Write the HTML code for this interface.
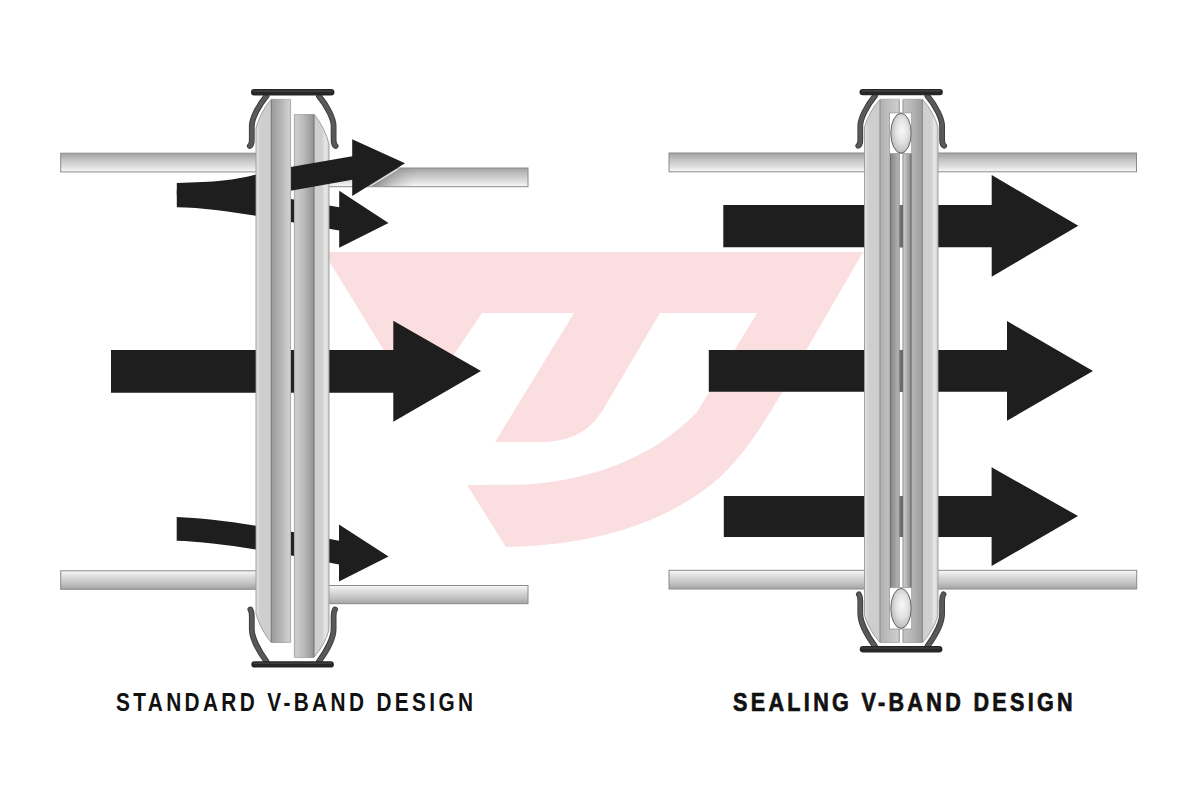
<!DOCTYPE html>
<html><head><meta charset="utf-8">
<style>
html,body{margin:0;padding:0;background:#fff;width:1200px;height:800px;overflow:hidden}
svg{display:block;position:absolute;left:0;top:0}
.t{position:absolute;top:687.5px;font-family:"Liberation Sans",sans-serif;font-weight:bold;color:#111;white-space:nowrap;font-size:25.4px;line-height:normal;transform-origin:0 0}
</style></head>
<body>
<svg width="1200" height="800" viewBox="0 0 1200 800">
<defs>
  <linearGradient id="pipe" x1="0" y1="0" x2="0" y2="1">
    <stop offset="0" stop-color="#a2a2a2"/>
    <stop offset="0.35" stop-color="#c4c2c2"/>
    <stop offset="0.7" stop-color="#dedddd"/>
    <stop offset="1" stop-color="#fafafa"/>
  </linearGradient>
  <linearGradient id="fl" x1="0" y1="0" x2="1" y2="0">
    <stop offset="0" stop-color="#e4e4e4"/>
    <stop offset="0.12" stop-color="#d0cfd0"/>
    <stop offset="1" stop-color="#c8c8c8"/>
  </linearGradient>
  <linearGradient id="pipeD" x1="0" y1="0" x2="0" y2="1">
    <stop offset="0" stop-color="#fafafa"/>
    <stop offset="0.3" stop-color="#dedede"/>
    <stop offset="0.65" stop-color="#c6c4c4"/>
    <stop offset="1" stop-color="#a4a4a4"/>
  </linearGradient>
  <linearGradient id="shadowA" gradientUnits="userSpaceOnUse" x1="372" y1="176" x2="412" y2="190">
    <stop offset="0" stop-color="#555" stop-opacity="0.75"/>
    <stop offset="0.5" stop-color="#777" stop-opacity="0.35"/>
    <stop offset="1" stop-color="#999" stop-opacity="0"/>
  </linearGradient>
  <clipPath id="pipeUR"><rect x="327" y="168.5" width="201" height="17.8"/></clipPath>
  <linearGradient id="flR" x1="0" y1="0" x2="1" y2="0">
    <stop offset="0" stop-color="#cdcdcd"/>
    <stop offset="0.8" stop-color="#d0d0d0"/>
    <stop offset="0.9" stop-color="#e8e8e8"/>
    <stop offset="1" stop-color="#cfcfcf"/>
  </linearGradient>
  <linearGradient id="gA" x1="0" y1="0" x2="1" y2="0">
    <stop offset="0" stop-color="#9a9a9a"/>
    <stop offset="0.6" stop-color="#bababa"/>
    <stop offset="1" stop-color="#d6d6d6"/>
  </linearGradient>
  <linearGradient id="gB" x1="0" y1="0" x2="1" y2="0">
    <stop offset="0" stop-color="#d0d0d0"/>
    <stop offset="0.45" stop-color="#bcbcbc"/>
    <stop offset="1" stop-color="#929292"/>
  </linearGradient>
  <linearGradient id="gC" x1="0" y1="0" x2="1" y2="0">
    <stop offset="0" stop-color="#858585"/>
    <stop offset="1" stop-color="#b8b8b8"/>
  </linearGradient>
  <linearGradient id="gD" x1="0" y1="0" x2="1" y2="0">
    <stop offset="0" stop-color="#d0d0d0"/>
    <stop offset="0.7" stop-color="#a0a0a0"/>
    <stop offset="1" stop-color="#848484"/>
  </linearGradient>
  <linearGradient id="gA2" x1="0" y1="0" x2="1" y2="0">
    <stop offset="0" stop-color="#b0b0b0"/>
    <stop offset="1" stop-color="#d0d0d0"/>
  </linearGradient>
  <linearGradient id="gB2" x1="0" y1="0" x2="1" y2="0">
    <stop offset="0" stop-color="#c4c4c4"/>
    <stop offset="0.5" stop-color="#b4b4b4"/>
    <stop offset="1" stop-color="#9c9c9c"/>
  </linearGradient>
  <radialGradient id="seal" cx="0.55" cy="0.45" r="0.6" fx="0.55" fy="0.42">
    <stop offset="0" stop-color="#f8f8f8"/>
    <stop offset="0.5" stop-color="#e2e2e2"/>
    <stop offset="1" stop-color="#b4b4b4"/>
  </radialGradient>
</defs>

<!-- pink logo -->
<path fill="#fbdfe0" d="M323.5,252 L863,252 L781,394 C760,430 735,470 700,493 C650,527 590,545 506,547 L467,485 L525,484.5 C595,480 655,456 697,412 L757,313 L660,313 L607,403 C595,425 580,440 545,442 L495,442 L574,313 L482,313 L418.5,407 Z"/>

<!-- ===== LEFT DIAGRAM ===== -->
<g stroke="#8a8a8a" stroke-width="1">
  <rect x="60.7" y="153.2" width="197" height="18.7" fill="url(#pipe)"/>
  <rect x="327" y="168" width="201" height="18.7" fill="url(#pipe)"/>
  <rect x="60.7" y="570.8" width="197" height="18.5" fill="url(#pipeD)"/>
  <rect x="327" y="585.5" width="201" height="18.2" fill="url(#pipeD)"/>
</g>

<!-- big arrow -->
<path fill="#1e1e1e" d="M111,350 L393.3,350 L393.3,320.7 L481,371 L393.3,421.7 L393.3,392.7 L111,392.7 Z"/>
<!-- lower stream -->
<path fill="#1e1e1e" d="M176.7,517.1 C215,518.5 270,527 339,540.8 L339,524.5 L388.5,556.5 L339,581.5 L339,564.5 C270,551 215,542 176.7,540.8 Z"/>
<!-- stream B (upper-lower) -->
<path fill="#1e1e1e" d="M176.8,190 C220,191 260,194 290.7,199 L339.2,207.2 L339.2,190.7 L388.5,223 L339.2,247.7 L339.2,230.4 C300,225 230,208 176.8,207.2 Z"/>

<!-- right flange (left diagram) -->
<g>
  <path d="M293.5,114.5 L314.4,114.5 Q324.8,127.7 329,144 L329,166 M329,605 L329,630 Q324.5,645.4 313.8,657.5 L293.5,657.5" fill="none" stroke="#fff" stroke-width="2.6"/>
  <path d="M294.4,114.5 L314.4,114.5 Q324.8,127.7 329,144 L329,630 Q324.5,645.4 313.8,657.5 L294.4,657.5 Z" fill="url(#flR)" stroke="#999" stroke-width="0.9"/>
  <rect x="294.4" y="114.5" width="19.6" height="543" fill="url(#gB)"/>
  <line x1="294.6" y1="115" x2="294.6" y2="657" stroke="#aaa" stroke-width="0.9"/>
  <line x1="314" y1="115" x2="314" y2="657" stroke="#727272" stroke-width="1"/>
</g>

<!-- stream A (upper) over right flange -->
<path fill="#1e1e1e" d="M176.8,182.9 C215,182 235,180 256,174.4 L290.7,167.1 L352.2,156.2 L352.2,139.3 L405,163.3 L352.2,196 L352.2,179.8 L290.7,190.7 L256,196 L176.8,195 Z"/>
<path d="M405,163.3 L352.2,196 L440,196 L440,163.3 Z" fill="url(#shadowA)" clip-path="url(#pipeUR)"/>
<path d="M405.6,164.2 L352.6,197" stroke="#fff" stroke-width="1" fill="none" clip-path="url(#pipeUR)"/>

<!-- left flange (left diagram) -->
<g>
  <path d="M291.5,99.4 L271,99.4 Q260.4,112.1 256,128 L256,151 M256,591 L256,613.8 Q260.5,629.8 271.2,642.5 L291.5,642.5" fill="none" stroke="#fff" stroke-width="2.6"/>
  <path d="M256,128 Q260.4,112.1 271,99.4 L290.6,99.4 L290.6,642.5 L271.2,642.5 Q260.5,629.8 256,613.8 Z" fill="url(#fl)" stroke="#999" stroke-width="0.9"/>
  <rect x="271.2" y="99.4" width="19.4" height="543.1" fill="url(#gA)"/>
  <line x1="271.3" y1="100" x2="271.3" y2="642" stroke="#777" stroke-width="1"/>
  <line x1="290.3" y1="100" x2="290.3" y2="642" stroke="#aaa" stroke-width="0.9"/>
</g>

<!-- clamp left diagram -->
<g id="clampTop">
  <g fill="none" stroke-linecap="round" stroke-linejoin="round">
    <path stroke="#3c3c3c" stroke-width="5.8" d="M249.8,146 Q251.8,144.5 251.8,140 L251.8,126 C251.8,119 258,106 266.5,96 M335.6,146 Q333.6,144.5 333.6,140 L333.6,126 C333.6,119 327.4,106 318.9,96"/>
    <path stroke="#595959" stroke-width="4" d="M249.8,146 Q251.8,144.5 251.8,140 L251.8,126 C251.8,119 258,106 266.5,96 M335.6,146 Q333.6,144.5 333.6,140 L333.6,126 C333.6,119 327.4,106 318.9,96"/>
  </g>
  <rect x="251" y="89.1" width="83.4" height="6.4" rx="3.2" fill="#262626"/>
  <rect x="253" y="90.3" width="79" height="1.6" rx="0.8" fill="#3e3e3e"/>
</g>
<g id="clampBot">
  <g fill="none" stroke-linecap="round" stroke-linejoin="round">
    <path stroke="#3c3c3c" stroke-width="5.8" d="M250.4,609.5 Q251.8,611.5 251.8,616 L251.8,629 C251.8,637 258,650 266.5,661.5 M335,609.5 Q333.6,611.5 333.6,616 L333.6,629 C333.6,637 327.4,650 318.9,661.5"/>
    <path stroke="#595959" stroke-width="4" d="M250.4,609.5 Q251.8,611.5 251.8,616 L251.8,629 C251.8,637 258,650 266.5,661.5 M335,609.5 Q333.6,611.5 333.6,616 L333.6,629 C333.6,637 327.4,650 318.9,661.5"/>
  </g>
  <rect x="251.3" y="661.3" width="82.6" height="6.3" rx="3.15" fill="#262626"/>
  <rect x="253" y="662.4" width="79" height="1.5" rx="0.75" fill="#3e3e3e"/>
</g>

<!-- ===== RIGHT DIAGRAM ===== -->
<g stroke="#8a8a8a" stroke-width="1">
  <rect x="669" y="153" width="197" height="18.8" fill="url(#pipe)"/>
  <rect x="936" y="153" width="200.5" height="18.8" fill="url(#pipe)"/>
  <rect x="669" y="570.3" width="197" height="18.7" fill="url(#pipeD)"/>
  <rect x="936" y="570.3" width="200.7" height="18.7" fill="url(#pipeD)"/>
</g>
<g fill="#1e1e1e">
  <path d="M723.3,205 L991.7,205 L991.7,175 L1078.3,225.7 L991.7,276.7 L991.7,247.3 L723.3,247.3 Z"/>
  <path d="M708.8,350 L1007,350 L1007,321 L1093,371 L1007,420.8 L1007,391.7 L708.8,391.7 Z"/>
  <path d="M723.8,496 L991.6,496 L991.6,467.3 L1078,516 L991.6,566 L991.6,537 L723.8,537 Z"/>
</g>
<!-- flanges right diagram -->
<g>
  <path d="M900.2,99.3 L880,99.3 Q869.2,111.4 864.5,127 L864.5,151 M864.5,590 L864.5,615.5 Q869.2,630.7 880,642.5 L900.2,642.5" fill="none" stroke="#fff" stroke-width="2.6"/>
  <path d="M902.1,99.3 L922.5,99.3 Q933.3,111.4 938,127 L938,151 M938,590 L938,615.5 Q933.3,630.7 922.5,642.5 L902.1,642.5" fill="none" stroke="#fff" stroke-width="2.6"/>
  <path d="M864.5,127 Q869.2,111.4 880,99.3 L899.3,99.3 L899.3,642.5 L880,642.5 Q869.2,630.7 864.5,615.5 Z" fill="url(#fl)" stroke="#999" stroke-width="0.9"/>
  <path d="M903,99.3 L922.5,99.3 Q933.3,111.4 938,127 L938,615.5 Q933.3,630.7 922.5,642.5 L903,642.5 Z" fill="url(#flR)" stroke="#999" stroke-width="0.9"/>
  <!-- left flange inner -->
  <rect x="880" y="99.3" width="19.3" height="543.2" fill="url(#gA2)"/>
  <rect x="890.3" y="153.6" width="9" height="434" fill="url(#gC)"/>
  <line x1="880" y1="100" x2="880" y2="642" stroke="#888" stroke-width="1"/>
  <line x1="890.3" y1="153.6" x2="890.3" y2="587.7" stroke="#666" stroke-width="1"/>
  <line x1="899.1" y1="100" x2="899.1" y2="642" stroke="#999" stroke-width="0.8"/>
  <!-- right flange inner -->
  <rect x="903" y="99.3" width="19.5" height="543.2" fill="url(#gB2)"/>
  <rect x="903.2" y="153.6" width="8" height="434" fill="url(#gD)"/>
  <line x1="911" y1="153.6" x2="911" y2="587.7" stroke="#666" stroke-width="1"/>
  <line x1="922.4" y1="100" x2="922.4" y2="642" stroke="#888" stroke-width="1"/>
  <line x1="903.2" y1="100" x2="903.2" y2="642" stroke="#999" stroke-width="0.8"/>
  <!-- gap arrows grey -->
  <rect x="899.6" y="205" width="3.2" height="42.3" fill="#6c6c6c"/>
  <rect x="899.6" y="350" width="3.2" height="41.7" fill="#6c6c6c"/>
  <rect x="899.6" y="496" width="3.2" height="41" fill="#6c6c6c"/>
  <!-- seal grooves -->
  <rect x="889.4" y="112.9" width="22.3" height="40.7" fill="#fff" stroke="#999" stroke-width="0.8"/>
  <ellipse cx="901" cy="133.2" rx="10.2" ry="20" fill="url(#seal)" stroke="#666" stroke-width="1"/>
  <rect x="889.4" y="587.7" width="22.3" height="41.3" fill="#fff" stroke="#999" stroke-width="0.8"/>
  <ellipse cx="901" cy="608.4" rx="10.2" ry="20" fill="url(#seal)" stroke="#666" stroke-width="1"/>
</g>
<use href="#clampTop" transform="translate(608.5,-0.2)"/>
<use href="#clampBot" transform="translate(608.5,-15.2)"/>
</svg>
<div class="t" style="left:115.7px;letter-spacing:4.1px;transform:scaleX(0.82)">STANDARD V-BAND DESIGN</div>
<div class="t" style="left:732.5px;letter-spacing:3.9px;transform:scaleX(0.85);-webkit-text-stroke:0.7px #111">SEALING V-BAND DESIGN</div>
</body></html>
